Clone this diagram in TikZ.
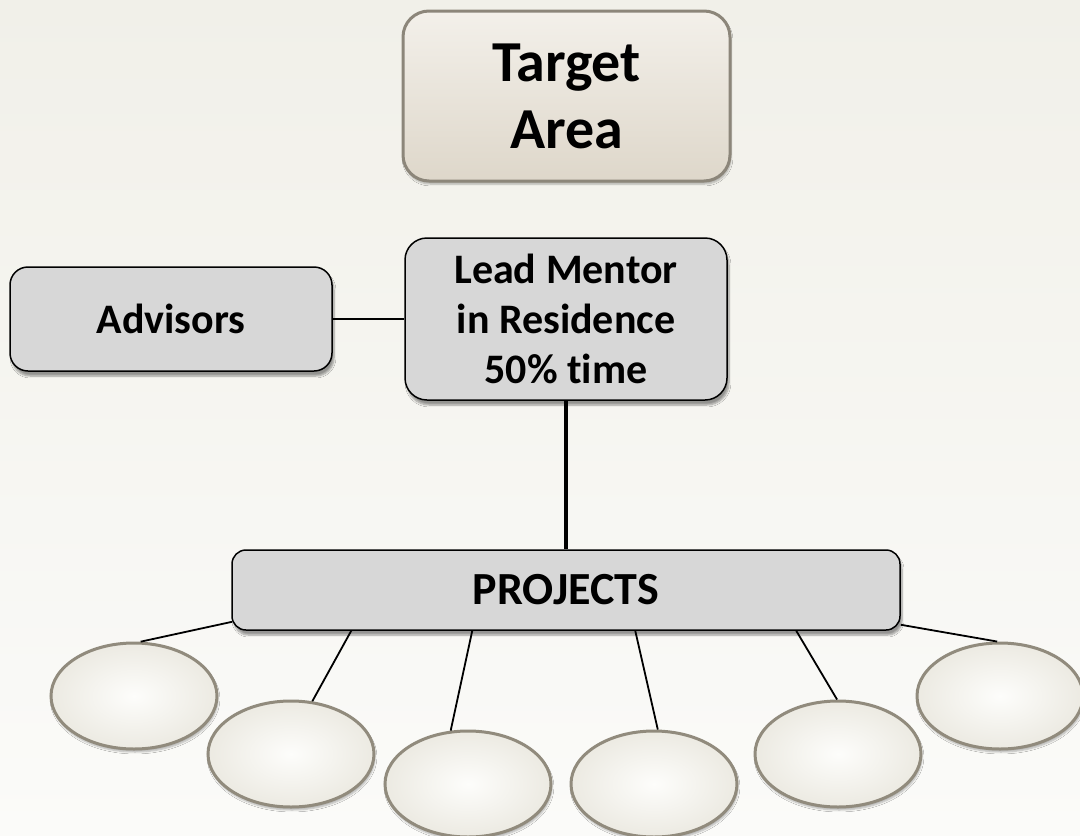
\documentclass[tikz,border=0pt]{standalone}
\usepackage{fontspec}
\setmainfont{Carlito}[Ligatures=NoCommon]
\usetikzlibrary{shapes.geometric,shadows,shadows.blur,calc}
\definecolor{bgtop}{RGB}{241,240,233}
\definecolor{bgbot}{RGB}{251,251,249}
\definecolor{boxfill}{RGB}{215,215,215}
\definecolor{tatop}{RGB}{243,240,234}
\definecolor{tabot}{RGB}{222,215,202}
\definecolor{tarim}{RGB}{140,134,122}
\definecolor{ellin}{RGB}{253,253,251}
\definecolor{ellout}{RGB}{236,234,226}
\definecolor{ellrim}{RGB}{145,139,125}
\begin{document}
\begin{tikzpicture}[x=1pt,y=-1pt,
  graybox/.style={draw=black, line width=1.5pt, fill=boxfill, rounded corners=18pt,
    inner sep=0pt, align=center, font=\bfseries\fontsize{42}{50}\selectfont,
    blur shadow={shadow xshift=2pt, shadow yshift=-5pt, shadow blur steps=6, shadow opacity=40}},
  tabox/.style={draw=tarim, line width=3pt, top color=tatop, bottom color=tabot,
    rounded corners=26pt, inner sep=0pt, align=center,
    font=\bfseries\fontsize{58}{67}\selectfont,
    blur shadow={shadow xshift=1pt, shadow yshift=-3pt, shadow blur steps=5, shadow opacity=30}},
  oval/.style={ellipse, draw=ellrim, line width=3pt, inner color=ellin, outer color=ellout,
    minimum width=166pt, minimum height=106pt, inner sep=0pt,
    blur shadow={shadow xshift=1pt, shadow yshift=-3pt, shadow blur steps=5, shadow opacity=30}},
  conn/.style={draw=black, line width=1.8pt},
  thickconn/.style={draw=black, line width=4pt}]
\shade[top color=bgtop, bottom color=bgbot] (0,0) rectangle (1080,836);
\useasboundingbox (0,0) rectangle (1080,836);

\node[tabox, minimum width=327pt, minimum height=170pt] (target) at (566.5,96) {Target\\Area};
\node[graybox, minimum width=322pt, minimum height=104pt] (adv) at (171,319) {Advisors};
\node[graybox, minimum width=322pt, minimum height=162pt, rounded corners=22pt] (lead) at (566,319) {Lead Mentor\\in Residence\\50\% time};
\node[graybox, minimum width=668pt, minimum height=80pt, rounded corners=14pt,
  font=\bfseries\fontsize{46}{52}\selectfont] (proj) at (566,590) {PROJECTS};

\node[oval] (e1) at (134,696) {};
\node[oval] (e2) at (291,754) {};
\node[oval] (e3) at (468,784) {};
\node[oval] (e4) at (654,784) {};
\node[oval] (e5) at (838,754) {};
\node[oval] (e6) at (1000,696) {};

\draw[conn] (adv.east) -- (lead.west);
\draw[thickconn] (lead.south) -- (proj.north);
\draw[conn] ($(proj.south west)+(1,-9)$) -- (e1.83);
\draw[conn] ($(proj.south west)+(120,0)$) -- (e2.68);
\draw[conn] ($(proj.south west)+(241,0)$) -- (e3.108);
\draw[conn] ($(proj.south west)+(404,0)$) -- (e4.86);
\draw[conn] ($(proj.south west)+(565,0)$) -- (e5.91);
\draw[conn] ($(proj.south east)+(0,-6)$) -- (e6.93);
\end{tikzpicture}
\end{document}
